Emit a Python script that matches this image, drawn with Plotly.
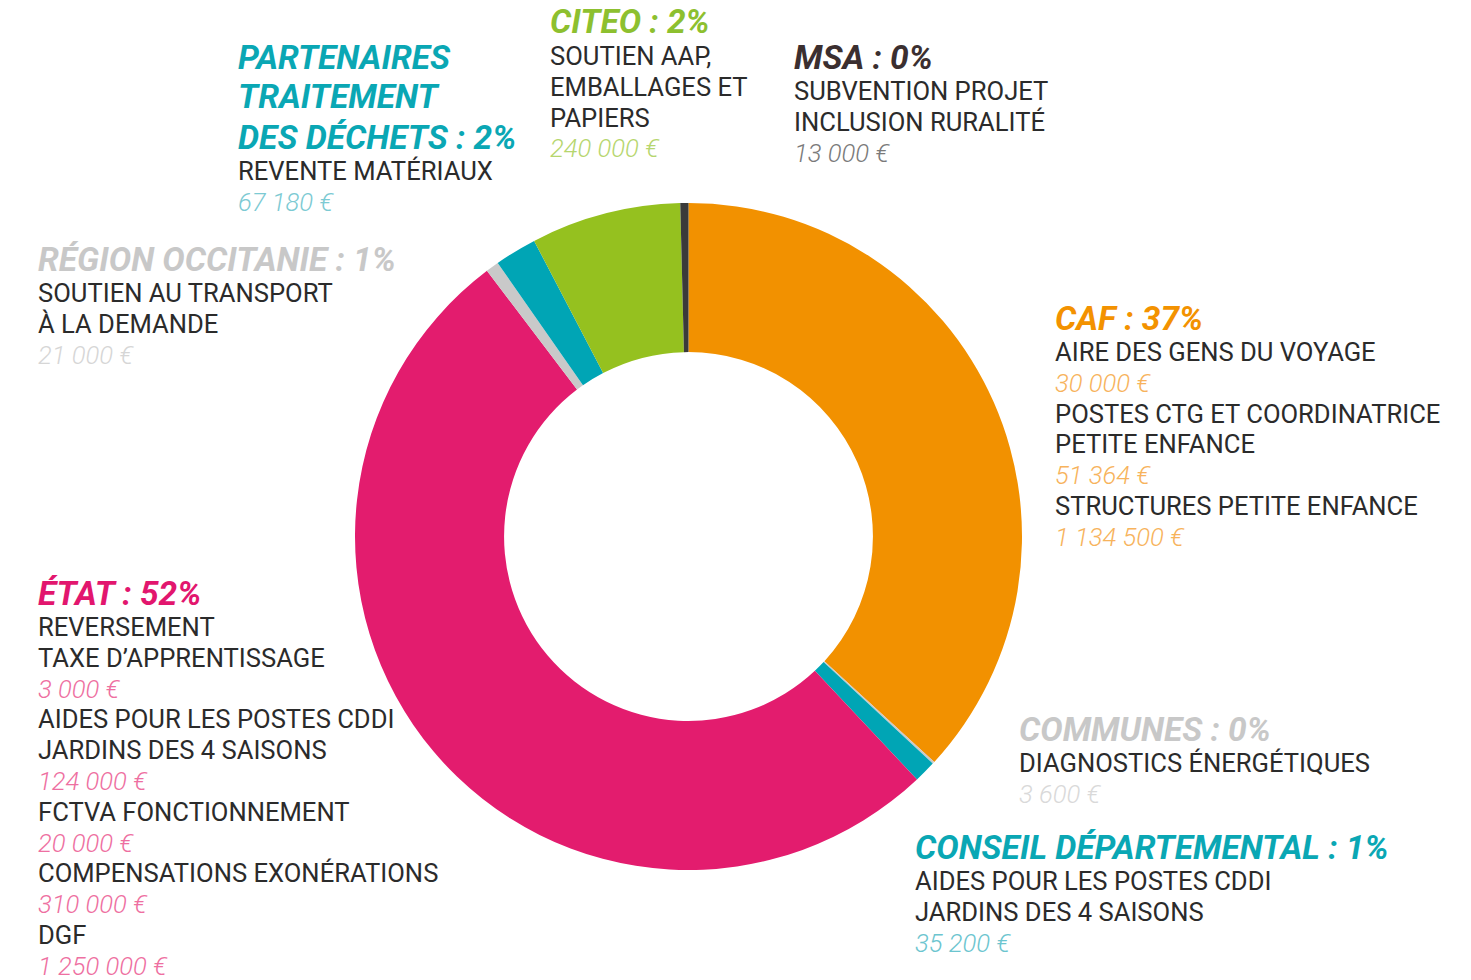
import plotly.graph_objects as go

W, H = 1471, 980
PAGE_OFF = 8  # default body margin of the html page

# ---- data ----
sources = ["CAF", "COMMUNES", "CONSEIL DÉPARTEMENTAL", "ÉTAT", "RÉGION OCCITANIE",
           "PARTENAIRES TRAITEMENT DES DÉCHETS", "CITEO", "MSA"]
pct_labels = ["37%", "0%", "1%", "52%", "1%", "2%", "2%", "0%"]

caf_items = ["AIRE DES GENS DU VOYAGE", "POSTES CTG ET COORDINATRICE<br>PETITE ENFANCE",
             "STRUCTURES PETITE ENFANCE"]
caf_amounts = [30000, 51364, 1134500]
communes_items = ["DIAGNOSTICS ÉNERGÉTIQUES"]
communes_amounts = [3600]
cd_items = ["AIDES POUR LES POSTES CDDI<br>JARDINS DES 4 SAISONS"]
cd_amounts = [35200]
etat_items = ["REVERSEMENT<br>TAXE D’APPRENTISSAGE", "AIDES POUR LES POSTES CDDI<br>JARDINS DES 4 SAISONS",
              "FCTVA FONCTIONNEMENT", "COMPENSATIONS EXONÉRATIONS", "DGF"]
etat_amounts = [3000, 124000, 20000, 310000, 1250000]
region_items = ["SOUTIEN AU TRANSPORT<br>À LA DEMANDE"]
region_amounts = [21000]
partenaires_items = ["REVENTE MATÉRIAUX"]
partenaires_amounts = [67180]
citeo_items = ["SOUTIEN AAP,<br>EMBALLAGES ET<br>PAPIERS"]
citeo_amounts = [240000]
msa_items = ["SUBVENTION PROJET<br>INCLUSION RURALITÉ"]
msa_amounts = [13000]

items = [caf_items, communes_items, cd_items, etat_items, region_items,
         partenaires_items, citeo_items, msa_items]
amounts = [caf_amounts, communes_amounts, cd_amounts, etat_amounts, region_amounts,
           partenaires_amounts, citeo_amounts, msa_amounts]
totals = [sum(a) for a in amounts]

# ---- styles ----
slice_colors = ["#F29100", "#C9C9C9", "#00A5B5", "#E31C6E", "#C9C9C9", "#00A5B5", "#95C11F", "#3A3A3A"]
title_colors = ["#F39200", "#C8C8C8", "#0AA7B4", "#E2166E", "#C8C8C8", "#0AA7B4", "#8DC02F", "#3B2F30"]
value_colors = ["#F7B35C", "#D9D9D9", "#6CC5CF", "#EE6FA1", "#D6D6D6", "#7CCAD3", "#B6D66E", "#7A7A7A"]
title_break = {5: "PARTENAIRES<br>TRAITEMENT<br>DES DÉCHETS"}
# block positions (left x px, title first-line center y px) in screen pixels
block_pos = [(1055, 318), (1019, 729), (915, 847), (38, 593), (38, 259), (238, 57), (550, 22), (794, 57)]

FONT = "Roboto"
TITLE_SIZE = 33.5
BODY_SIZE = 25.6
TITLE_LH = 40
BODY_LH = 30.8


def px_x(px):
    return (px - PAGE_OFF) / W


def px_y(py):
    return 1 - (py - PAGE_OFF) / H


def fmt(v):
    return f"{v:,}".replace(",", " ") + " €"


fig = go.Figure(go.Pie(
    labels=sources, values=totals, sort=False, direction="clockwise", rotation=0,
    hole=0.553, marker=dict(colors=slice_colors, line=dict(width=0)),
    textinfo="none", hoverinfo="label+value+percent", showlegend=False,
    domain=dict(x=[px_x(355), px_x(1022)], y=[px_y(870), px_y(203)]),
))

annotations = []


def add_line(x, y, text, size, color, italic=False, bold=False, weight=None):
    t = text
    if bold:
        t = f"<b>{t}</b>"
    if italic:
        t = f"<i>{t}</i>"
    if weight:
        t = f"<span style='font-weight:{weight}'>{t}</span>"
    annotations.append(dict(
        x=px_x(x), y=px_y(y), xref="paper", yref="paper", xanchor="left", yanchor="middle",
        text=t, showarrow=False, align="left", borderpad=0, borderwidth=0,
        font=dict(family=FONT, size=size, color=color),
    ))


for i, src in enumerate(sources):
    x0, y0 = block_pos[i]
    title = title_break.get(i, src) + " : " + pct_labels[i]
    tlines = title.split("<br>")
    y = y0
    for tl in tlines:
        add_line(x0, y, tl, TITLE_SIZE, title_colors[i], italic=True, bold=True)
        y += TITLE_LH
    y = y - TITLE_LH + 34
    for it, am in zip(items[i], amounts[i]):
        for bl in it.split("<br>"):
            add_line(x0, y, bl, BODY_SIZE, "#2B2B2B")
            y += BODY_LH
        add_line(x0, y, fmt(am), BODY_SIZE, value_colors[i], italic=True, weight=300)
        y += BODY_LH

fig.update_layout(
    width=W, height=H, margin=dict(l=0, r=0, t=0, b=0),
    paper_bgcolor="white", plot_bgcolor="white",
    annotations=annotations,
)

fig.write_html("out.html")
